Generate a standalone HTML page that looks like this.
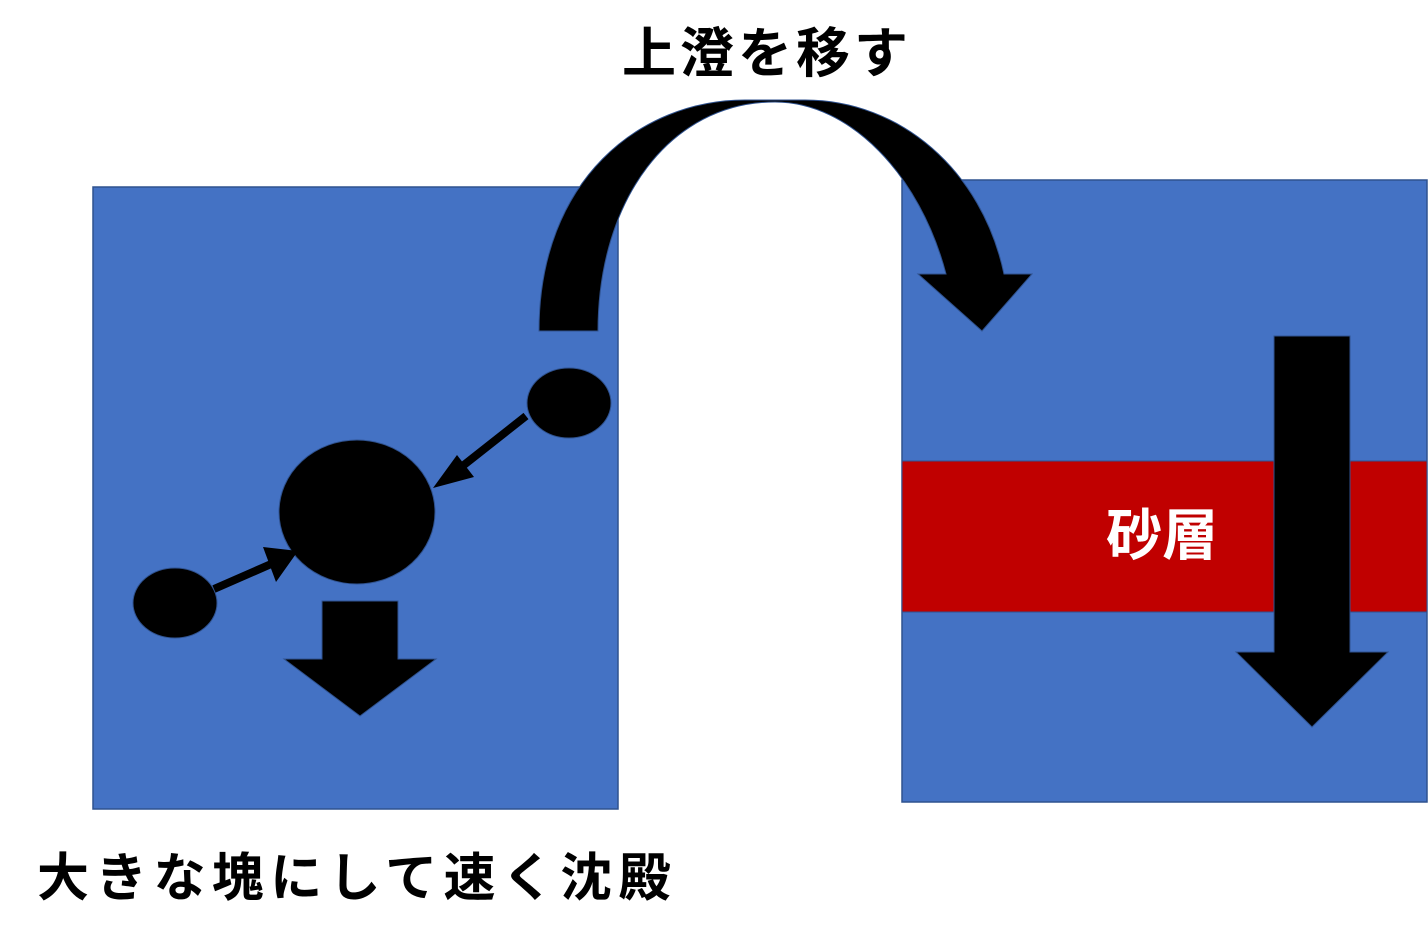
<!DOCTYPE html>
<html><head><meta charset="utf-8"><style>
body{margin:0;background:#fff;width:1428px;height:949px;overflow:hidden}
svg{display:block}
text{font-family:"Liberation Sans","Noto Sans CJK JP",sans-serif;font-weight:bold}
</style></head><body>
<svg width="1428" height="949" viewBox="0 0 1428 949">
<rect x="93" y="187" width="525" height="622" fill="#4472C4" stroke="#2F528F" stroke-width="1.5"/>
<rect x="902" y="180" width="525" height="622" fill="#4472C4" stroke="#2F528F" stroke-width="1.5"/>
<rect x="902" y="461" width="525" height="151" fill="#C00000" stroke="#2F528F" stroke-width="1"/>
<text x="1162" y="555" font-size="56" fill="#fff" text-anchor="middle">砂層</text>
<polygon points="1274,336 1350,336 1350,652 1388,652 1312,727 1236,652 1274,652" fill="#000" stroke="#2F528F" stroke-width="1"/>
<path d="M539,331 C539,180 640,100 745,100 L805,100 C900,100 982,170 1004,274 L1032,274 L982,331 L918,274 L946,274 C920,175 850,102 775,102 C670,102 598,200 598,331 Z" fill="#000" stroke="#2F528F" stroke-width="1"/>
<ellipse cx="569" cy="403" rx="42" ry="35" fill="#000" stroke="#2F528F"/>
<ellipse cx="357" cy="512" rx="78" ry="72" fill="#000" stroke="#2F528F"/>
<ellipse cx="175" cy="603" rx="42" ry="35" fill="#000" stroke="#2F528F"/>
<line x1="526" y1="416" x2="455" y2="472" stroke="#000" stroke-width="8"/>
<polygon points="433,488 474,477 457,455" fill="#000"/>
<line x1="214" y1="589" x2="278" y2="561" stroke="#000" stroke-width="8"/>
<polygon points="298,551 263,547 276,582" fill="#000"/>
<polygon points="322,601 398,601 398,659 436,659 360,716 284,659 322,659" fill="#000" stroke="#2F528F" stroke-width="1"/>
<text x="622" y="72" font-size="54" fill="#000" letter-spacing="4">上澄を移す</text>
<text x="37" y="896" font-size="52" fill="#000" letter-spacing="6.3">大きな塊にして速く沈殿</text>
</svg>
</body></html>
